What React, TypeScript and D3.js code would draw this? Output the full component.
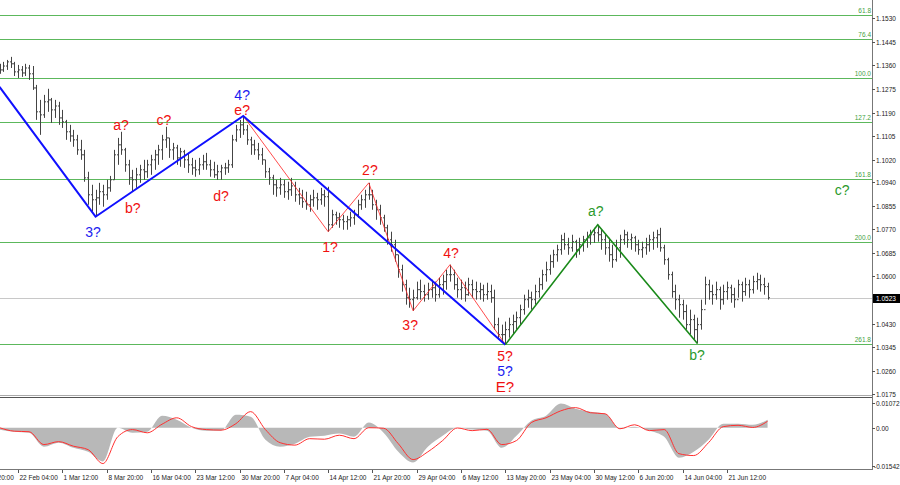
import * as d3 from 'd3';

// H4-ish bars (every bar ~3.7px)
const highs = [
  1.1366, 1.1373, 1.1380, 1.1391, 1.1373, 1.1362, 1.1358, 1.1366, 1.1362, 1.1358,
  1.1290, 1.1236, 1.1254, 1.1276, 1.1243, 1.1236, 1.1229, 1.1200, 1.1164, 1.1146,
  1.1128, 1.1110, 1.1092, 1.1056, 1.0977, 1.0930, 1.0912, 1.0937, 1.0930, 1.0948,
  1.0962, 1.1056, 1.1099, 1.1121, 1.1063, 1.1020, 1.0984, 1.0991, 1.1002, 1.1020,
  1.1020, 1.1038, 1.1056, 1.1074, 1.1110, 1.1139, 1.1099, 1.1081, 1.1074, 1.1063,
  1.1056, 1.1045, 1.1027, 1.1020, 1.1027, 1.1038, 1.1045, 1.1020, 1.1013, 1.1002,
  1.1002, 1.1009, 1.1020, 1.1110, 1.1146, 1.1164, 1.1178, 1.1146, 1.1103, 1.1092,
  1.1081, 1.1063, 1.1020, 1.0991, 1.0966, 1.0948, 1.0955, 1.0948, 1.0941, 1.0955,
  1.0941, 1.0919, 1.0912, 1.0905, 1.0894, 1.0912, 1.0901, 1.0919, 1.0912, 1.0923,
  1.0840, 1.0833, 1.0829, 1.0822, 1.0818, 1.0833, 1.0840, 1.0876, 1.0894, 1.0912,
  1.0937, 1.0912, 1.0876, 1.0858, 1.0822, 1.0786, 1.0761, 1.0732, 1.0678, 1.0642,
  1.0588, 1.0559, 1.0552, 1.0581, 1.0588, 1.0570, 1.0577, 1.0588, 1.0581, 1.0595,
  1.0606, 1.0624, 1.0642, 1.0624, 1.0595, 1.0588, 1.0581, 1.0595, 1.0588, 1.0581,
  1.0577, 1.0570, 1.0577, 1.0570, 1.0552, 1.0451, 1.0426, 1.0437, 1.0451, 1.0462,
  1.0473, 1.0498, 1.0534, 1.0552, 1.0545, 1.0570, 1.0595, 1.0624, 1.0653, 1.0678,
  1.0696, 1.0714, 1.0750, 1.0757, 1.0739, 1.0750, 1.0732, 1.0739, 1.0746, 1.0761,
  1.0768, 1.0775, 1.0786, 1.0768, 1.0750, 1.0739, 1.0714, 1.0732, 1.0750, 1.0768,
  1.0761, 1.0754, 1.0746, 1.0732, 1.0725, 1.0739, 1.0750, 1.0761, 1.0768, 1.0775,
  1.0714, 1.0667, 1.0617, 1.0570, 1.0534, 1.0516, 1.0498, 1.0480, 1.0462, 1.0451,
  1.0516, 1.0599, 1.0588, 1.0570, 1.0581, 1.0563, 1.0570, 1.0581, 1.0570, 1.0559,
  1.0588, 1.0581, 1.0595, 1.0588, 1.0602, 1.0613, 1.0606, 1.0595, 1.0577,
];
const lows = [
  1.1330, 1.1337, 1.1344, 1.1351, 1.1322, 1.1315, 1.1319, 1.1322, 1.1308, 1.1272,
  1.1164, 1.1110, 1.1171, 1.1193, 1.1153, 1.1171, 1.1146, 1.1135, 1.1092, 1.1085,
  1.1067, 1.1038, 1.1020, 1.0941, 1.0858, 1.0833, 1.0815, 1.0858, 1.0851, 1.0876,
  1.0905, 1.0948, 1.1002, 1.1038, 1.0977, 1.0930, 1.0905, 1.0919, 1.0937, 1.0948,
  1.0955, 1.0966, 1.0984, 1.1002, 1.1020, 1.1063, 1.1027, 1.1020, 1.1002, 1.0995,
  1.0991, 1.0973, 1.0966, 1.0959, 1.0966, 1.0984, 1.0984, 1.0959, 1.0955, 1.0948,
  1.0948, 1.0966, 1.0973, 1.0991, 1.1085, 1.1099, 1.1110, 1.1074, 1.1038, 1.1038,
  1.1020, 1.1002, 1.0955, 1.0930, 1.0894, 1.0887, 1.0894, 1.0883, 1.0876, 1.0890,
  1.0869, 1.0858, 1.0847, 1.0840, 1.0833, 1.0851, 1.0840, 1.0858, 1.0851, 1.0761,
  1.0775, 1.0786, 1.0775, 1.0768, 1.0768, 1.0779, 1.0786, 1.0811, 1.0840, 1.0847,
  1.0876, 1.0840, 1.0804, 1.0786, 1.0761, 1.0714, 1.0689, 1.0653, 1.0595, 1.0545,
  1.0498, 1.0487, 1.0476, 1.0516, 1.0516, 1.0509, 1.0516, 1.0523, 1.0509, 1.0523,
  1.0534, 1.0552, 1.0581, 1.0552, 1.0523, 1.0516, 1.0509, 1.0530, 1.0523, 1.0516,
  1.0516, 1.0509, 1.0516, 1.0505, 1.0408, 1.0372, 1.0361, 1.0354, 1.0379, 1.0390,
  1.0408, 1.0426, 1.0462, 1.0487, 1.0480, 1.0498, 1.0523, 1.0552, 1.0581, 1.0606,
  1.0631, 1.0653, 1.0678, 1.0696, 1.0678, 1.0689, 1.0667, 1.0678, 1.0689, 1.0703,
  1.0714, 1.0721, 1.0725, 1.0696, 1.0678, 1.0653, 1.0631, 1.0653, 1.0667, 1.0714,
  1.0703, 1.0696, 1.0689, 1.0678, 1.0667, 1.0678, 1.0689, 1.0696, 1.0703, 1.0689,
  1.0642, 1.0588, 1.0523, 1.0480, 1.0451, 1.0444, 1.0408, 1.0390, 1.0372, 1.0358,
  1.0408, 1.0498, 1.0516, 1.0498, 1.0516, 1.0480, 1.0498, 1.0516, 1.0505, 1.0487,
  1.0523, 1.0509, 1.0530, 1.0523, 1.0538, 1.0552, 1.0545, 1.0534, 1.0516,
];
const closes = [
  1.1344, 1.1358, 1.1373, 1.1366, 1.1337, 1.1344, 1.1333, 1.1351, 1.1330, 1.1279,
  1.1193, 1.1182, 1.1229, 1.1236, 1.1200, 1.1214, 1.1171, 1.1157, 1.1121, 1.1106,
  1.1092, 1.1056, 1.1038, 1.0955, 1.0894, 1.0876, 1.0883, 1.0905, 1.0894, 1.0919,
  1.0948, 1.1038, 1.1074, 1.1056, 1.1002, 1.0955, 1.0948, 1.0966, 1.0984, 1.0977,
  1.1002, 1.1020, 1.1038, 1.1056, 1.1092, 1.1099, 1.1056, 1.1063, 1.1027, 1.1049,
  1.1020, 1.1002, 1.0991, 1.0984, 1.1002, 1.1013, 1.1002, 1.0984, 1.0966, 1.0977,
  1.0991, 1.0991, 1.1002, 1.1092, 1.1128, 1.1146, 1.1128, 1.1092, 1.1074, 1.1056,
  1.1038, 1.1020, 1.0977, 1.0955, 1.0930, 1.0919, 1.0930, 1.0905, 1.0912, 1.0926,
  1.0894, 1.0883, 1.0869, 1.0858, 1.0876, 1.0883, 1.0876, 1.0894, 1.0887, 1.0786,
  1.0822, 1.0811, 1.0804, 1.0797, 1.0804, 1.0811, 1.0822, 1.0858, 1.0876, 1.0894,
  1.0894, 1.0858, 1.0840, 1.0811, 1.0775, 1.0732, 1.0714, 1.0678, 1.0624, 1.0570,
  1.0523, 1.0516, 1.0523, 1.0552, 1.0545, 1.0534, 1.0552, 1.0559, 1.0534, 1.0570,
  1.0581, 1.0606, 1.0606, 1.0570, 1.0552, 1.0559, 1.0534, 1.0570, 1.0552, 1.0545,
  1.0552, 1.0534, 1.0545, 1.0523, 1.0426, 1.0390, 1.0390, 1.0408, 1.0426, 1.0437,
  1.0451, 1.0480, 1.0516, 1.0523, 1.0516, 1.0545, 1.0570, 1.0606, 1.0624, 1.0653,
  1.0678, 1.0696, 1.0732, 1.0714, 1.0703, 1.0725, 1.0696, 1.0714, 1.0732, 1.0739,
  1.0750, 1.0757, 1.0750, 1.0732, 1.0703, 1.0678, 1.0660, 1.0703, 1.0732, 1.0750,
  1.0732, 1.0739, 1.0714, 1.0696, 1.0703, 1.0714, 1.0732, 1.0739, 1.0750, 1.0703,
  1.0660, 1.0606, 1.0545, 1.0516, 1.0498, 1.0473, 1.0426, 1.0444, 1.0408, 1.0426,
  1.0480, 1.0570, 1.0545, 1.0534, 1.0552, 1.0516, 1.0545, 1.0559, 1.0534, 1.0516,
  1.0570, 1.0545, 1.0570, 1.0552, 1.0581, 1.0588, 1.0570, 1.0563, 1.0523,
];
const firstOpen = 1.1350;
const lastPrice = 1.0523;

// oscillator, one reading every 4 bars
const oscEvery = 4;
const histo = [
  -0.0007, -0.0015, -0.0019, -0.0071, -0.0056, -0.0075, -0.0090, -0.0126, 0.0000, -0.0019,
  -0.0015, 0.0045, 0.0030, 0.0000, -0.0011, -0.0011, 0.0048, 0.0041, -0.0045, -0.0071,
  -0.0060, -0.0034, -0.0030, -0.0022, -0.0034, 0.0019, -0.0019, -0.0090, -0.0130, -0.0071,
  -0.0030, 0.0000, -0.0007, -0.0011, -0.0075, -0.0030, 0.0026, 0.0045, 0.0090, 0.0071,
  0.0060, 0.0052, -0.0004, 0.0004, -0.0011, -0.0034, -0.0112, -0.0090, -0.0045, 0.0015,
  0.0015, 0.0011, 0.0030,
];
const signal = [
  0.0000, -0.0013, -0.0015, -0.0063, -0.0052, -0.0069, -0.0082, -0.0134, -0.0034, -0.0007,
  -0.0019, 0.0013, 0.0037, 0.0004, -0.0007, -0.0009, 0.0015, 0.0060, -0.0007, -0.0056,
  -0.0065, -0.0041, -0.0043, -0.0028, -0.0041, 0.0000, -0.0002, -0.0060, -0.0119, -0.0090,
  -0.0048, -0.0001, -0.0011, -0.0006, -0.0063, -0.0048, 0.0019, 0.0037, 0.0063, 0.0075,
  0.0056, 0.0052, -0.0004, 0.0011, -0.0011, -0.0007, -0.0097, -0.0104, -0.0056, 0.0004,
  0.0009, 0.0001, 0.0024,
];

const priceTicks = [1.0175, 1.0260, 1.0345, 1.0430, 1.0600, 1.0685, 1.0770, 1.0855, 1.0940,
  1.1020, 1.1105, 1.1190, 1.1275, 1.1360, 1.1445, 1.1530];
const oscTicks = [0.01072, 0, -0.01542];
const oscTickLabels = ['0.01072', '0.00', '-0.01542'];

const dateLabels = ['14 Feb 20:00', '22 Feb 04:00', '1 Mar 12:00', '8 Mar 20:00', '16 Mar 04:00',
  '23 Mar 12:00', '30 Mar 20:00', '7 Apr 04:00', '14 Apr 12:00', '21 Apr 20:00', '29 Apr 04:00',
  '6 May 12:00', '13 May 20:00', '23 May 04:00', '30 May 12:00', '6 Jun 20:00', '14 Jun 04:00',
  '21 Jun 12:00'];
const firstDateBar = -7;
const barsPerDate = 12;

const fibNames = ['61.8', '76.4', '100.0', '127.2', '161.8', '200.0', '261.8'];
const fibPrices = [1.1543, 1.1456, 1.1316, 1.1155, 1.0950, 1.0723, 1.0356];

// wave vertices [bar, price]
const blueWave = [[0, 1.1283], [26, 1.0815], [66, 1.1178], [137, 1.0354]];
const redWave = [[66, 1.1178], [89, 1.0761], [100, 1.0937], [112, 1.0476], [122, 1.0642], [137, 1.0354]];
const greenWave = [[137, 1.0354], [162, 1.0786], [189, 1.0358]];

const waveLabels = [
  { t: '3?', i: 25.3, p: 1.0761, c: 'blue' },
  { t: '4?', i: 65.7, p: 1.1252, c: 'blue' },
  { t: 'e?', i: 65.7, p: 1.1200, c: 'red' },
  { t: 'a?', i: 32.9, p: 1.1146, c: 'red' },
  { t: 'b?', i: 36.1, p: 1.0847, c: 'red' },
  { t: 'c?', i: 44.5, p: 1.1164, c: 'red' },
  { t: 'd?', i: 60, p: 1.0890, c: 'red' },
  { t: '1?', i: 89.5, p: 1.0707, c: 'red' },
  { t: '2?', i: 100.3, p: 1.0984, c: 'red' },
  { t: '3?', i: 111.2, p: 1.0426, c: 'red' },
  { t: '4?', i: 122.3, p: 1.0685, c: 'red' },
  { t: '5?', i: 136.9, p: 1.0311, c: 'red' },
  { t: '5?', i: 136.9, p: 1.0257, c: 'blue' },
  { t: 'E?', i: 136.9, p: 1.0203, c: 'red', big: true },
  { t: 'a?', i: 161.5, p: 1.0836, c: 'green' },
  { t: 'b?', i: 188.9, p: 1.0318, c: 'green' },
  { t: 'c?', i: 228.2, p: 1.0912, c: 'green' },
];

const colors = { red: '#f01010', blue: '#1c1cf0', green: '#2b9a2b' };

const plotRight = 872;
const x = d3.scaleLinear().domain([0, 1]).range([-0.46, -0.46 + 3.6925]);
const y = d3.scaleLinear().domain([1.0175, 1.1530]).range([394.3, 18.3]);
const yo = d3.scaleLinear().domain([-0.01542, 0.01072]).range([469, 399]);

const App = () => {
  const waveLine = d3.line().x((d) => x(d[0])).y((d) => y(d[1]));
  const oscArea = d3.area()
    .x((d, k) => x(k * oscEvery))
    .y0(yo(0))
    .y1((d) => yo(d))
    .curve(d3.curveMonotoneX);
  const sigLine = d3.line()
    .x((d, k) => x(k * oscEvery))
    .y((d) => yo(d))
    .curve(d3.curveMonotoneX);
  const font = "'Liberation Sans', Arial, sans-serif";

  return (
    <svg width={900} height={485} style={{ position: 'absolute', left: 0, top: 0, background: '#fff' }}>
      <defs>
        <clipPath id="mainClip"><rect x={0} y={0} width={plotRight} height={395} /></clipPath>
        <clipPath id="oscClip"><rect x={0} y={398} width={plotRight} height={71} /></clipPath>
      </defs>

      <g clipPath="url(#mainClip)">
        {fibPrices.map((p, k) => (
          <g key={k}>
            <line x1={0} x2={plotRight} y1={Math.round(y(p)) + 0.5} y2={Math.round(y(p)) + 0.5} stroke="#5cb85c" />
            <text x={plotRight - 1} y={Math.round(y(p)) - 2} textAnchor="end" fontSize={6.5} fontFamily={font} fill="#3f9f3f">{fibNames[k]}</text>
          </g>
        ))}
        <line x1={0} x2={plotRight} y1={Math.round(y(lastPrice)) + 0.5} y2={Math.round(y(lastPrice)) + 0.5} stroke="#c8c8c8" />

        {highs.map((h, i) => {
          const xi = Math.round(x(i)) + 0.5;
          const o = i ? closes[i - 1] : firstOpen;
          return (
            <g key={i} stroke="#444" strokeWidth={1}>
              <line x1={xi} x2={xi} y1={y(h)} y2={y(lows[i])} />
              <line x1={xi - 1.5} x2={xi} y1={y(o)} y2={y(o)} />
              <line x1={xi} x2={xi + 1.5} y1={y(closes[i])} y2={y(closes[i])} />
            </g>
          );
        })}

        <path d={waveLine(redWave)} fill="none" stroke="#ff2020" strokeWidth={0.8} />
        <path d={waveLine(blueWave)} fill="none" stroke="#1010ff" strokeWidth={2} />
        <path d={waveLine(greenWave)} fill="none" stroke="#1a8a1a" strokeWidth={1.6} />

        {waveLabels.map((l, k) => (
          <text key={k} x={x(l.i)} y={y(l.p)} dy="0.35em" textAnchor="middle" fontFamily={font}
            fontSize={l.big ? 15 : 14} fill={colors[l.c]}>{l.t}</text>
        ))}
      </g>

      {/* panel separators */}
      <line x1={0} x2={plotRight} y1={395.5} y2={395.5} stroke="#aaa" />
      <line x1={0} x2={plotRight} y1={397.5} y2={397.5} stroke="#555" />
      <line x1={0} x2={plotRight} y1={469.5} y2={469.5} stroke="#777" />
      <line x1={plotRight + 0.5} x2={plotRight + 0.5} y1={0} y2={470} stroke="#777" />

      <g clipPath="url(#oscClip)">
        <path d={oscArea(histo)} fill="#b8b8b8" />
        <path d={sigLine(signal)} fill="none" stroke="#ff3030" strokeWidth={1} />
      </g>

      {/* right price axis */}
      {priceTicks.map((p) => (
        <g key={p} transform={`translate(${plotRight}, ${Math.round(y(p)) + 0.5})`}>
          <line x1={0} x2={3} stroke="#555" />
          <text x={4} dy="0.35em" fontSize={6.5} fontFamily={font} fill="#222">{p.toFixed(4)}</text>
        </g>
      ))}
      <g transform={`translate(${plotRight}, ${Math.round(y(lastPrice)) + 0.5})`}>
        <rect x={1} y={-4.5} width={27} height={9} fill="#000" />
        <text x={4} dy="0.35em" fontSize={6.5} fontFamily={font} fill="#fff">{lastPrice.toFixed(4)}</text>
      </g>
      {oscTicks.map((v, k) => (
        <g key={k} transform={`translate(${plotRight}, ${Math.round(yo(v) + (k === 0 ? 4 : k === 2 ? -3 : 0)) + 0.5})`}>
          <line x1={0} x2={3} stroke="#555" />
          <text x={k === 2 ? 2 : 4} dy="0.35em" fontSize={6.5} fontFamily={font} fill="#222">{oscTickLabels[k]}</text>
        </g>
      ))}

      {/* time axis */}
      {dateLabels.map((d, k) => {
        const tx = Math.round(x(firstDateBar + k * barsPerDate)) + 0.5;
        return (
          <g key={d} transform={`translate(${tx}, 470)`}>
            <line y1={0} y2={3} stroke="#555" />
            <text x={1} y={9.5} fontSize={6.5} fontFamily={font} fill="#222">{d}</text>
          </g>
        );
      })}
    </svg>
  );
};

export default App;
